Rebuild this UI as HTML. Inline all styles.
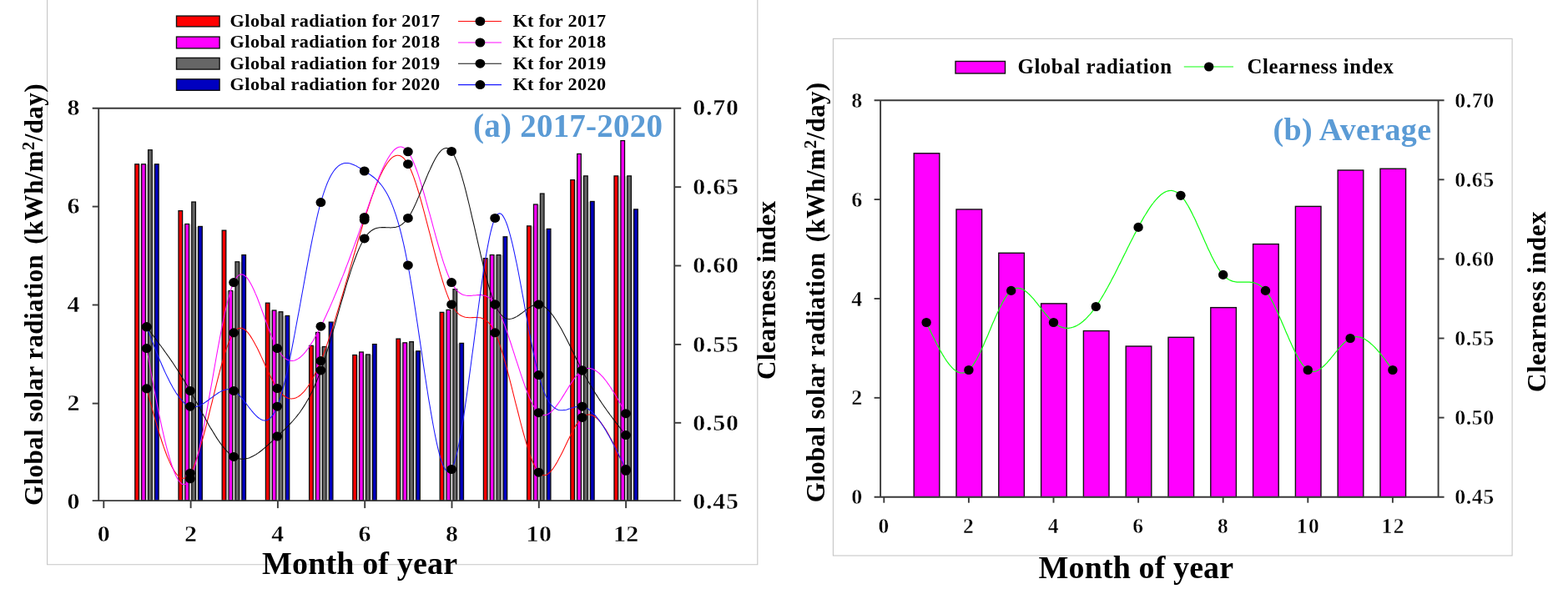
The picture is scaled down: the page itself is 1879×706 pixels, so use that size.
<!DOCTYPE html>
<html lang="en">
<head>
<meta charset="utf-8">
<title>Global solar radiation and clearness index</title>
<style>
html,body{margin:0;padding:0;background:#fff;}
body{width:1879px;height:706px;overflow:hidden;font-family:"Liberation Serif", "DejaVu Serif", serif;}
svg{display:block;}

</style>
</head>
<body>
<svg width="1879" height="706" viewBox="0 0 1879 706">
<rect x="0" y="0" width="1879" height="706" fill="#fff"/>
<g fill="none" stroke="#c6c6c6" stroke-width="1.1">
<path d="M56.6 -2 V676.8 H907.8 V-2"/>
<rect x="998.4" y="46.4" width="813.7" height="619.6"/>
</g>
<g fill="#d2d2d2">
<rect x="167.05" y="197.14" width="2.00" height="402.96"/>
<rect x="174.95" y="197.14" width="2.00" height="402.96"/>
<rect x="182.85" y="197.14" width="2.00" height="402.96"/>
<rect x="219.25" y="268.88" width="2.00" height="331.22"/>
<rect x="227.15" y="268.88" width="2.00" height="331.22"/>
<rect x="235.05" y="271.82" width="2.00" height="328.28"/>
<rect x="271.45" y="348.85" width="2.00" height="251.25"/>
<rect x="279.35" y="348.85" width="2.00" height="251.25"/>
<rect x="287.25" y="314.16" width="2.00" height="285.94"/>
<rect x="323.65" y="372.37" width="2.00" height="227.73"/>
<rect x="331.55" y="374.13" width="2.00" height="225.97"/>
<rect x="339.45" y="378.84" width="2.00" height="221.26"/>
<rect x="375.85" y="414.70" width="2.00" height="185.40"/>
<rect x="383.75" y="415.88" width="2.00" height="184.22"/>
<rect x="391.65" y="415.88" width="2.00" height="184.22"/>
<rect x="428.05" y="425.88" width="2.00" height="174.22"/>
<rect x="435.95" y="425.29" width="2.00" height="174.81"/>
<rect x="443.85" y="425.29" width="2.00" height="174.81"/>
<rect x="480.25" y="411.18" width="2.00" height="188.92"/>
<rect x="488.15" y="411.18" width="2.00" height="188.92"/>
<rect x="496.05" y="421.17" width="2.00" height="178.93"/>
<rect x="532.45" y="374.72" width="2.00" height="225.38"/>
<rect x="540.35" y="371.78" width="2.00" height="228.32"/>
<rect x="548.25" y="411.76" width="2.00" height="188.34"/>
<rect x="584.65" y="310.04" width="2.00" height="290.06"/>
<rect x="592.55" y="305.92" width="2.00" height="294.18"/>
<rect x="600.45" y="305.92" width="2.00" height="294.18"/>
<rect x="636.85" y="271.23" width="2.00" height="328.87"/>
<rect x="644.75" y="245.36" width="2.00" height="354.74"/>
<rect x="652.65" y="274.76" width="2.00" height="325.34"/>
<rect x="689.05" y="215.96" width="2.00" height="384.14"/>
<rect x="696.95" y="211.26" width="2.00" height="388.84"/>
<rect x="704.85" y="241.83" width="2.00" height="358.27"/>
<rect x="741.25" y="211.26" width="2.00" height="388.84"/>
<rect x="749.15" y="211.26" width="2.00" height="388.84"/>
<rect x="757.05" y="251.24" width="2.00" height="348.86"/>
</g>
<g stroke="#0c0c0c" stroke-width="1.3">
<rect x="161.80" y="196.79" width="4.6" height="403.31" fill="#ff0000"/>
<rect x="214.00" y="252.65" width="4.6" height="347.45" fill="#ff0000"/>
<rect x="266.20" y="276.17" width="4.6" height="323.93" fill="#ff0000"/>
<rect x="318.40" y="363.20" width="4.6" height="236.90" fill="#ff0000"/>
<rect x="370.60" y="414.35" width="4.6" height="185.75" fill="#ff0000"/>
<rect x="422.80" y="425.53" width="4.6" height="174.57" fill="#ff0000"/>
<rect x="475.00" y="406.12" width="4.6" height="193.98" fill="#ff0000"/>
<rect x="527.20" y="374.37" width="4.6" height="225.73" fill="#ff0000"/>
<rect x="579.40" y="309.69" width="4.6" height="290.41" fill="#ff0000"/>
<rect x="631.60" y="270.88" width="4.6" height="329.22" fill="#ff0000"/>
<rect x="683.80" y="215.61" width="4.6" height="384.49" fill="#ff0000"/>
<rect x="736.00" y="210.91" width="4.6" height="389.19" fill="#ff0000"/>
<rect x="169.70" y="196.79" width="4.6" height="403.31" fill="#ff00ff"/>
<rect x="221.90" y="268.53" width="4.6" height="331.57" fill="#ff00ff"/>
<rect x="274.10" y="348.50" width="4.6" height="251.60" fill="#ff00ff"/>
<rect x="326.30" y="372.02" width="4.6" height="228.08" fill="#ff00ff"/>
<rect x="378.50" y="398.48" width="4.6" height="201.62" fill="#ff00ff"/>
<rect x="430.70" y="422.00" width="4.6" height="178.10" fill="#ff00ff"/>
<rect x="482.90" y="410.83" width="4.6" height="189.27" fill="#ff00ff"/>
<rect x="535.10" y="371.43" width="4.6" height="228.67" fill="#ff00ff"/>
<rect x="587.30" y="305.57" width="4.6" height="294.53" fill="#ff00ff"/>
<rect x="639.50" y="245.01" width="4.6" height="355.09" fill="#ff00ff"/>
<rect x="691.70" y="184.45" width="4.6" height="415.65" fill="#ff00ff"/>
<rect x="743.90" y="168.57" width="4.6" height="431.53" fill="#ff00ff"/>
<rect x="177.60" y="179.74" width="4.6" height="420.36" fill="#666666"/>
<rect x="229.80" y="242.07" width="4.6" height="358.03" fill="#666666"/>
<rect x="282.00" y="313.81" width="4.6" height="286.29" fill="#666666"/>
<rect x="334.20" y="373.78" width="4.6" height="226.32" fill="#666666"/>
<rect x="386.40" y="415.53" width="4.6" height="184.57" fill="#666666"/>
<rect x="438.60" y="424.94" width="4.6" height="175.16" fill="#666666"/>
<rect x="490.80" y="409.65" width="4.6" height="190.45" fill="#666666"/>
<rect x="543.00" y="346.73" width="4.6" height="253.37" fill="#666666"/>
<rect x="595.20" y="305.57" width="4.6" height="294.53" fill="#666666"/>
<rect x="647.40" y="232.07" width="4.6" height="368.03" fill="#666666"/>
<rect x="699.60" y="210.91" width="4.6" height="389.19" fill="#666666"/>
<rect x="751.80" y="210.91" width="4.6" height="389.19" fill="#666666"/>
<rect x="185.50" y="196.79" width="4.6" height="403.31" fill="#0000c0"/>
<rect x="237.70" y="271.47" width="4.6" height="328.63" fill="#0000c0"/>
<rect x="289.90" y="305.57" width="4.6" height="294.53" fill="#0000c0"/>
<rect x="342.10" y="378.49" width="4.6" height="221.61" fill="#0000c0"/>
<rect x="394.30" y="386.13" width="4.6" height="213.97" fill="#0000c0"/>
<rect x="446.50" y="412.59" width="4.6" height="187.51" fill="#0000c0"/>
<rect x="498.70" y="420.82" width="4.6" height="179.28" fill="#0000c0"/>
<rect x="550.90" y="411.41" width="4.6" height="188.69" fill="#0000c0"/>
<rect x="603.10" y="283.82" width="4.6" height="316.28" fill="#0000c0"/>
<rect x="655.30" y="274.41" width="4.6" height="325.69" fill="#0000c0"/>
<rect x="707.50" y="241.48" width="4.6" height="358.62" fill="#0000c0"/>
<rect x="759.70" y="250.89" width="4.6" height="349.21" fill="#0000c0"/>
</g>
<g fill="none" stroke="#3a3a3a" stroke-width="1.9">
<path d="M118.2 129.7 V600.1"/>
<path d="M110.7 129.7 H816.2"/>
<path d="M110.7 600.1 H816.2"/>
<path d="M808.2 129.7 V600.1"/>
<path d="M110.7 483.60 H118.2"/>
<path d="M110.7 365.50 H118.2"/>
<path d="M110.7 247.60 H118.2"/>
<path d="M808.2 506.80 H816.2"/>
<path d="M808.2 412.90 H816.2"/>
<path d="M808.2 318.50 H816.2"/>
<path d="M808.2 224.20 H816.2"/>
<path d="M124.30 600.1 V609.1"/>
<path d="M228.60 600.1 V609.1"/>
<path d="M332.90 600.1 V609.1"/>
<path d="M437.20 600.1 V609.1"/>
<path d="M541.50 600.1 V609.1"/>
<path d="M645.80 600.1 V609.1"/>
<path d="M750.10 600.1 V609.1"/>
</g>
<path d="M175.7 465.8 L177.0 470.5 L178.3 475.3 L179.6 480.1 L180.9 484.8 L182.2 489.6 L183.5 494.2 L184.8 498.8 L186.1 503.4 L187.4 507.9 L188.7 512.3 L190.0 516.6 L191.3 520.8 L192.6 525.0 L193.9 529.0 L195.2 532.9 L196.5 536.7 L197.8 540.3 L199.1 543.8 L200.4 547.2 L201.8 550.4 L203.1 553.4 L204.4 556.2 L205.7 558.9 L207.0 561.3 L208.3 563.6 L209.6 565.6 L210.9 567.4 L212.2 569.0 L213.5 570.4 L214.8 571.5 L216.1 572.3 L217.4 572.9 L218.7 573.2 L220.0 573.3 L221.3 573.0 L222.6 572.5 L223.9 571.6 L225.2 570.5 L226.5 569.0 L227.9 567.2 L229.2 565.0 L230.5 562.6 L231.8 559.8 L233.1 556.7 L234.4 553.4 L235.7 549.8 L237.0 546.0 L238.3 541.9 L239.6 537.7 L240.9 533.2 L242.2 528.6 L243.5 523.9 L244.8 519.0 L246.1 514.0 L247.4 508.9 L248.7 503.7 L250.0 498.5 L251.3 493.2 L252.6 487.8 L254.0 482.5 L255.3 477.1 L256.6 471.8 L257.9 466.5 L259.2 461.3 L260.5 456.1 L261.8 451.1 L263.1 446.1 L264.4 441.2 L265.7 436.5 L267.0 432.0 L268.3 427.6 L269.6 423.4 L270.9 419.4 L272.2 415.7 L273.5 412.1 L274.8 408.9 L276.1 405.9 L277.4 403.2 L278.7 400.8 L280.1 398.8 L281.4 397.1 L282.7 395.7 L284.0 394.6 L285.3 393.8 L286.6 393.4 L287.9 393.2 L289.2 393.3 L290.5 393.6 L291.8 394.2 L293.1 395.0 L294.4 396.0 L295.7 397.3 L297.0 398.7 L298.3 400.3 L299.6 402.1 L300.9 404.1 L302.2 406.2 L303.5 408.4 L304.8 410.7 L306.1 413.2 L307.5 415.7 L308.8 418.3 L310.1 421.0 L311.4 423.8 L312.7 426.6 L314.0 429.4 L315.3 432.3 L316.6 435.1 L317.9 438.0 L319.2 440.8 L320.5 443.7 L321.8 446.4 L323.1 449.1 L324.4 451.8 L325.7 454.3 L327.0 456.8 L328.3 459.2 L329.6 461.5 L330.9 463.6 L332.2 465.6 L333.6 467.4 L334.9 469.1 L336.2 470.6 L337.5 472.0 L338.8 473.2 L340.1 474.3 L341.4 475.2 L342.7 476.0 L344.0 476.7 L345.3 477.2 L346.6 477.6 L347.9 477.8 L349.2 477.9 L350.5 477.8 L351.8 477.7 L353.1 477.3 L354.4 476.9 L355.7 476.3 L357.0 475.6 L358.4 474.7 L359.7 473.8 L361.0 472.7 L362.3 471.4 L363.6 470.1 L364.9 468.6 L366.2 467.0 L367.5 465.3 L368.8 463.5 L370.1 461.5 L371.4 459.5 L372.7 457.3 L374.0 455.0 L375.3 452.6 L376.6 450.0 L377.9 447.4 L379.2 444.7 L380.5 441.8 L381.8 438.9 L383.1 435.8 L384.4 432.6 L385.8 429.4 L387.1 426.0 L388.4 422.5 L389.7 419.0 L391.0 415.4 L392.3 411.6 L393.6 407.8 L394.9 404.0 L396.2 400.0 L397.5 396.0 L398.8 391.9 L400.1 387.8 L401.4 383.6 L402.7 379.3 L404.0 375.0 L405.3 370.7 L406.6 366.3 L407.9 361.9 L409.2 357.5 L410.6 353.0 L411.9 348.5 L413.2 344.0 L414.5 339.4 L415.8 334.9 L417.1 330.3 L418.4 325.7 L419.7 321.2 L421.0 316.6 L422.3 312.1 L423.6 307.5 L424.9 303.0 L426.2 298.5 L427.5 294.0 L428.8 289.5 L430.1 285.1 L431.4 280.7 L432.7 276.3 L434.0 272.0 L435.3 267.7 L436.7 263.5 L438.0 259.3 L439.3 255.2 L440.6 251.1 L441.9 247.2 L443.2 243.3 L444.5 239.4 L445.8 235.7 L447.1 232.1 L448.4 228.5 L449.7 225.1 L451.0 221.7 L452.3 218.5 L453.6 215.4 L454.9 212.4 L456.2 209.6 L457.5 206.9 L458.8 204.3 L460.1 201.9 L461.4 199.6 L462.8 197.5 L464.1 195.5 L465.4 193.7 L466.7 192.1 L468.0 190.7 L469.3 189.4 L470.6 188.4 L471.9 187.5 L473.2 186.9 L474.5 186.4 L475.8 186.2 L477.1 186.2 L478.4 186.4 L479.7 186.8 L481.0 187.5 L482.3 188.4 L483.6 189.5 L484.9 190.9 L486.2 192.6 L487.5 194.5 L488.9 196.7 L490.2 199.1 L491.5 201.9 L492.8 204.8 L494.1 208.0 L495.4 211.4 L496.7 215.0 L498.0 218.9 L499.3 222.9 L500.6 227.0 L501.9 231.3 L503.2 235.8 L504.5 240.3 L505.8 245.0 L507.1 249.8 L508.4 254.7 L509.7 259.6 L511.0 264.6 L512.3 269.7 L513.6 274.7 L515.0 279.8 L516.3 284.9 L517.6 290.0 L518.9 295.1 L520.2 300.1 L521.5 305.1 L522.8 310.0 L524.1 314.9 L525.4 319.6 L526.7 324.3 L528.0 328.8 L529.3 333.2 L530.6 337.5 L531.9 341.6 L533.2 345.6 L534.5 349.3 L535.8 352.9 L537.1 356.2 L538.4 359.4 L539.7 362.3 L541.1 364.9 L542.4 367.3 L543.7 369.4 L545.0 371.3 L546.3 373.0 L547.6 374.5 L548.9 375.7 L550.2 376.8 L551.5 377.8 L552.8 378.5 L554.1 379.1 L555.4 379.6 L556.7 380.0 L558.0 380.3 L559.3 380.5 L560.6 380.6 L561.9 380.7 L563.2 380.7 L564.5 380.7 L565.8 380.6 L567.2 380.6 L568.5 380.5 L569.8 380.5 L571.1 380.5 L572.4 380.5 L573.7 380.7 L575.0 380.8 L576.3 381.1 L577.6 381.5 L578.9 382.0 L580.2 382.6 L581.5 383.4 L582.8 384.3 L584.1 385.4 L585.4 386.6 L586.7 388.1 L588.0 389.7 L589.3 391.6 L590.6 393.8 L591.9 396.1 L593.2 398.8 L594.6 401.7 L595.9 404.8 L597.2 408.3 L598.5 411.9 L599.8 415.8 L601.1 419.8 L602.4 424.0 L603.7 428.4 L605.0 433.0 L606.3 437.7 L607.6 442.5 L608.9 447.5 L610.2 452.5 L611.5 457.6 L612.8 462.7 L614.1 467.9 L615.4 473.1 L616.7 478.4 L618.0 483.6 L619.4 488.8 L620.7 494.0 L622.0 499.2 L623.3 504.3 L624.6 509.3 L625.9 514.2 L627.2 519.0 L628.5 523.7 L629.8 528.2 L631.1 532.6 L632.4 536.8 L633.7 540.8 L635.0 544.7 L636.3 548.3 L637.6 551.7 L638.9 554.8 L640.2 557.7 L641.5 560.3 L642.8 562.6 L644.1 564.6 L645.5 566.2 L646.8 567.6 L648.1 568.6 L649.4 569.3 L650.7 569.7 L652.0 569.8 L653.3 569.6 L654.6 569.2 L655.9 568.5 L657.2 567.7 L658.5 566.5 L659.8 565.2 L661.1 563.7 L662.4 562.1 L663.7 560.2 L665.0 558.2 L666.3 556.1 L667.6 553.9 L668.9 551.5 L670.2 549.1 L671.6 546.6 L672.9 544.0 L674.2 541.4 L675.5 538.7 L676.8 536.0 L678.1 533.3 L679.4 530.5 L680.7 527.8 L682.0 525.2 L683.3 522.5 L684.6 520.0 L685.9 517.5 L687.2 515.1 L688.5 512.7 L689.8 510.5 L691.1 508.4 L692.4 506.5 L693.7 504.7 L695.0 503.1 L696.3 501.6 L697.7 500.4 L699.0 499.3 L700.3 498.4 L701.7 497.8 L703.0 497.3 L704.3 497.1 L705.7 497.0 L707.0 497.1 L708.4 497.4 L709.7 497.8 L711.0 498.5 L712.4 499.3 L713.7 500.2 L715.1 501.3 L716.4 502.5 L717.7 503.9 L719.1 505.4 L720.4 507.1 L721.7 508.8 L723.1 510.7 L724.4 512.7 L725.8 514.8 L727.1 517.0 L728.4 519.3 L729.8 521.7 L731.1 524.2 L732.5 526.7 L733.8 529.3 L735.1 532.0 L736.5 534.8 L737.8 537.6 L739.1 540.4 L740.5 543.3 L741.8 546.2 L743.2 549.2 L744.5 552.2 L745.8 555.2 L747.2 558.3 L748.5 561.3 L749.9 564.3" fill="none" stroke="#ff0808" stroke-width="1.05"/>
<path d="M175.7 417.6 L177.0 424.7 L178.3 431.8 L179.6 438.9 L180.9 446.0 L182.2 453.0 L183.5 459.9 L184.8 466.8 L186.1 473.6 L187.4 480.3 L188.7 486.9 L190.0 493.3 L191.3 499.6 L192.6 505.8 L193.9 511.8 L195.2 517.7 L196.5 523.4 L197.8 528.9 L199.1 534.1 L200.4 539.2 L201.8 544.0 L203.1 548.6 L204.4 552.9 L205.7 557.0 L207.0 560.8 L208.3 564.3 L209.6 567.5 L210.9 570.4 L212.2 572.9 L213.5 575.2 L214.8 577.0 L216.1 578.5 L217.4 579.7 L218.7 580.4 L220.0 580.7 L221.3 580.7 L222.6 580.2 L223.9 579.3 L225.2 577.9 L226.5 576.1 L227.9 573.8 L229.2 571.0 L230.5 567.7 L231.8 564.1 L233.1 560.0 L234.4 555.5 L235.7 550.6 L237.0 545.5 L238.3 540.0 L239.6 534.2 L240.9 528.1 L242.2 521.8 L243.5 515.3 L244.8 508.5 L246.1 501.6 L247.4 494.6 L248.7 487.4 L250.0 480.1 L251.3 472.7 L252.6 465.3 L254.0 457.9 L255.3 450.4 L256.6 442.9 L257.9 435.5 L259.2 428.2 L260.5 420.9 L261.8 413.8 L263.1 406.8 L264.4 399.9 L265.7 393.2 L267.0 386.8 L268.3 380.5 L269.6 374.5 L270.9 368.8 L272.2 363.4 L273.5 358.3 L274.8 353.6 L276.1 349.2 L277.4 345.2 L278.7 341.7 L280.1 338.6 L281.4 335.9 L282.7 333.7 L284.0 331.9 L285.3 330.6 L286.6 329.6 L287.9 329.1 L289.2 328.9 L290.5 329.0 L291.8 329.5 L293.1 330.3 L294.4 331.4 L295.7 332.7 L297.0 334.4 L298.3 336.3 L299.6 338.4 L300.9 340.7 L302.2 343.2 L303.5 346.0 L304.8 348.8 L306.1 351.9 L307.5 355.0 L308.8 358.3 L310.1 361.7 L311.4 365.1 L312.7 368.6 L314.0 372.2 L315.3 375.8 L316.6 379.4 L317.9 383.0 L319.2 386.6 L320.5 390.1 L321.8 393.6 L323.1 397.0 L324.4 400.3 L325.7 403.6 L327.0 406.7 L328.3 409.7 L329.6 412.5 L330.9 415.1 L332.2 417.6 L333.6 419.8 L334.9 421.9 L336.2 423.8 L337.5 425.4 L338.8 426.9 L340.1 428.2 L341.4 429.3 L342.7 430.3 L344.0 431.0 L345.3 431.6 L346.6 432.1 L347.9 432.3 L349.2 432.5 L350.5 432.4 L351.8 432.2 L353.1 431.9 L354.4 431.4 L355.7 430.8 L357.0 430.1 L358.4 429.2 L359.7 428.3 L361.0 427.2 L362.3 425.9 L363.6 424.6 L364.9 423.1 L366.2 421.6 L367.5 419.9 L368.8 418.2 L370.1 416.4 L371.4 414.4 L372.7 412.4 L374.0 410.3 L375.3 408.2 L376.6 405.9 L377.9 403.6 L379.2 401.3 L380.5 398.8 L381.8 396.4 L383.1 393.8 L384.4 391.2 L385.8 388.6 L387.1 385.9 L388.4 383.2 L389.7 380.5 L391.0 377.7 L392.3 374.8 L393.6 372.0 L394.9 369.1 L396.2 366.1 L397.5 363.1 L398.8 360.1 L400.1 357.0 L401.4 353.9 L402.7 350.8 L404.0 347.7 L405.3 344.5 L406.6 341.3 L407.9 338.0 L409.2 334.7 L410.6 331.4 L411.9 328.1 L413.2 324.7 L414.5 321.3 L415.8 317.9 L417.1 314.5 L418.4 311.0 L419.7 307.5 L421.0 304.0 L422.3 300.5 L423.6 296.9 L424.9 293.4 L426.2 289.8 L427.5 286.2 L428.8 282.5 L430.1 278.9 L431.4 275.2 L432.7 271.6 L434.0 267.9 L435.3 264.2 L436.7 260.5 L438.0 256.7 L439.3 253.0 L440.6 249.3 L441.9 245.6 L443.2 241.9 L444.5 238.2 L445.8 234.6 L447.1 231.0 L448.4 227.4 L449.7 223.9 L451.0 220.5 L452.3 217.2 L453.6 213.9 L454.9 210.7 L456.2 207.6 L457.5 204.6 L458.8 201.7 L460.1 198.9 L461.4 196.2 L462.8 193.7 L464.1 191.3 L465.4 189.1 L466.7 187.0 L468.0 185.0 L469.3 183.3 L470.6 181.7 L471.9 180.2 L473.2 179.0 L474.5 178.0 L475.8 177.2 L477.1 176.6 L478.4 176.2 L479.7 176.0 L481.0 176.1 L482.3 176.4 L483.6 176.9 L484.9 177.8 L486.2 178.8 L487.5 180.2 L488.9 181.8 L490.2 183.7 L491.5 185.9 L492.8 188.4 L494.1 191.1 L495.4 194.0 L496.7 197.1 L498.0 200.5 L499.3 204.0 L500.6 207.7 L501.9 211.6 L503.2 215.6 L504.5 219.8 L505.8 224.1 L507.1 228.5 L508.4 233.0 L509.7 237.6 L511.0 242.3 L512.3 247.0 L513.6 251.8 L515.0 256.6 L516.3 261.4 L517.6 266.2 L518.9 271.1 L520.2 275.9 L521.5 280.6 L522.8 285.3 L524.1 290.0 L525.4 294.5 L526.7 299.0 L528.0 303.4 L529.3 307.7 L530.6 311.8 L531.9 315.8 L533.2 319.6 L534.5 323.3 L535.8 326.7 L537.1 330.0 L538.4 333.1 L539.7 335.9 L541.1 338.6 L542.4 340.9 L543.7 343.0 L545.0 344.9 L546.3 346.6 L547.6 348.1 L548.9 349.4 L550.2 350.5 L551.5 351.5 L552.8 352.3 L554.1 352.9 L555.4 353.4 L556.7 353.8 L558.0 354.1 L559.3 354.3 L560.6 354.4 L561.9 354.5 L563.2 354.4 L564.5 354.4 L565.8 354.3 L567.2 354.1 L568.5 354.0 L569.8 353.9 L571.1 353.7 L572.4 353.6 L573.7 353.6 L575.0 353.5 L576.3 353.6 L577.6 353.7 L578.9 353.9 L580.2 354.2 L581.5 354.6 L582.8 355.1 L584.1 355.7 L585.4 356.5 L586.7 357.4 L588.0 358.6 L589.3 359.8 L590.6 361.3 L591.9 363.0 L593.2 364.9 L594.6 367.0 L595.9 369.3 L597.2 371.9 L598.5 374.6 L599.8 377.5 L601.1 380.6 L602.4 383.8 L603.7 387.1 L605.0 390.6 L606.3 394.2 L607.6 397.9 L608.9 401.7 L610.2 405.6 L611.5 409.5 L612.8 413.5 L614.1 417.6 L615.4 421.6 L616.7 425.7 L618.0 429.8 L619.4 433.8 L620.7 437.9 L622.0 441.9 L623.3 445.9 L624.6 449.8 L625.9 453.7 L627.2 457.4 L628.5 461.1 L629.8 464.7 L631.1 468.1 L632.4 471.5 L633.7 474.6 L635.0 477.7 L636.3 480.5 L637.6 483.2 L638.9 485.7 L640.2 487.9 L641.5 490.0 L642.8 491.8 L644.1 493.4 L645.5 494.7 L646.8 495.8 L648.1 496.6 L649.4 497.2 L650.7 497.5 L652.0 497.6 L653.3 497.5 L654.6 497.2 L655.9 496.7 L657.2 496.0 L658.5 495.2 L659.8 494.2 L661.1 493.0 L662.4 491.7 L663.7 490.3 L665.0 488.8 L666.3 487.1 L667.6 485.4 L668.9 483.6 L670.2 481.7 L671.6 479.7 L672.9 477.7 L674.2 475.6 L675.5 473.6 L676.8 471.5 L678.1 469.4 L679.4 467.2 L680.7 465.2 L682.0 463.1 L683.3 461.0 L684.6 459.0 L685.9 457.1 L687.2 455.2 L688.5 453.4 L689.8 451.7 L691.1 450.1 L692.4 448.6 L693.7 447.2 L695.0 446.0 L696.3 444.9 L697.7 443.9 L699.0 443.1 L700.3 442.5 L701.7 442.0 L703.0 441.7 L704.3 441.5 L705.7 441.5 L707.0 441.6 L708.4 441.8 L709.7 442.2 L711.0 442.8 L712.4 443.4 L713.7 444.2 L715.1 445.1 L716.4 446.1 L717.7 447.2 L719.1 448.5 L720.4 449.8 L721.7 451.2 L723.1 452.7 L724.4 454.3 L725.8 456.0 L727.1 457.8 L728.4 459.6 L729.8 461.5 L731.1 463.5 L732.5 465.6 L733.8 467.7 L735.1 469.8 L736.5 472.0 L737.8 474.2 L739.1 476.5 L740.5 478.8 L741.8 481.2 L743.2 483.6 L744.5 486.0 L745.8 488.4 L747.2 490.8 L748.5 493.2 L749.9 495.7" fill="none" stroke="#ff08ff" stroke-width="1.05"/>
<path d="M175.7 391.8 L177.0 393.5 L178.3 395.3 L179.6 397.0 L180.9 398.7 L182.2 400.4 L183.5 402.2 L184.8 403.9 L186.1 405.6 L187.4 407.4 L188.7 409.2 L190.0 410.9 L191.3 412.7 L192.6 414.5 L193.9 416.3 L195.2 418.0 L196.5 419.9 L197.8 421.7 L199.1 423.5 L200.4 425.4 L201.8 427.2 L203.1 429.1 L204.4 431.0 L205.7 432.9 L207.0 434.8 L208.3 436.7 L209.6 438.7 L210.9 440.7 L212.2 442.7 L213.5 444.7 L214.8 446.7 L216.1 448.8 L217.4 450.9 L218.7 453.0 L220.0 455.1 L221.3 457.2 L222.6 459.4 L223.9 461.6 L225.2 463.8 L226.5 466.1 L227.9 468.4 L229.2 470.7 L230.5 473.0 L231.8 475.4 L233.1 477.8 L234.4 480.2 L235.7 482.6 L237.0 485.0 L238.3 487.4 L239.6 489.8 L240.9 492.3 L242.2 494.7 L243.5 497.1 L244.8 499.5 L246.1 501.8 L247.4 504.2 L248.7 506.5 L250.0 508.9 L251.3 511.2 L252.6 513.4 L254.0 515.6 L255.3 517.8 L256.6 519.9 L257.9 522.0 L259.2 524.1 L260.5 526.1 L261.8 528.0 L263.1 529.9 L264.4 531.7 L265.7 533.5 L267.0 535.1 L268.3 536.7 L269.6 538.3 L270.9 539.7 L272.2 541.1 L273.5 542.4 L274.8 543.6 L276.1 544.7 L277.4 545.7 L278.7 546.6 L280.1 547.4 L281.4 548.1 L282.7 548.7 L284.0 549.2 L285.3 549.6 L286.6 549.9 L287.9 550.1 L289.2 550.3 L290.5 550.3 L291.8 550.3 L293.1 550.1 L294.4 549.9 L295.7 549.6 L297.0 549.3 L298.3 548.9 L299.6 548.4 L300.9 547.8 L302.2 547.2 L303.5 546.6 L304.8 545.8 L306.1 545.1 L307.5 544.2 L308.8 543.4 L310.1 542.5 L311.4 541.5 L312.7 540.5 L314.0 539.5 L315.3 538.4 L316.6 537.3 L317.9 536.2 L319.2 535.1 L320.5 533.9 L321.8 532.7 L323.1 531.5 L324.4 530.3 L325.7 529.1 L327.0 527.9 L328.3 526.6 L329.6 525.4 L330.9 524.2 L332.2 523.0 L333.6 521.7 L334.9 520.5 L336.2 519.3 L337.5 518.1 L338.8 516.9 L340.1 515.6 L341.4 514.4 L342.7 513.1 L344.0 511.8 L345.3 510.5 L346.6 509.2 L347.9 507.8 L349.2 506.4 L350.5 505.0 L351.8 503.5 L353.1 502.0 L354.4 500.5 L355.7 498.9 L357.0 497.2 L358.4 495.5 L359.7 493.7 L361.0 491.8 L362.3 489.9 L363.6 487.9 L364.9 485.9 L366.2 483.8 L367.5 481.5 L368.8 479.2 L370.1 476.9 L371.4 474.4 L372.7 471.8 L374.0 469.2 L375.3 466.4 L376.6 463.5 L377.9 460.5 L379.2 457.5 L380.5 454.3 L381.8 450.9 L383.1 447.5 L384.4 443.9 L385.8 440.2 L387.1 436.4 L388.4 432.5 L389.7 428.5 L391.0 424.4 L392.3 420.2 L393.6 415.9 L394.9 411.5 L396.2 407.1 L397.5 402.7 L398.8 398.2 L400.1 393.6 L401.4 389.1 L402.7 384.5 L404.0 379.9 L405.3 375.3 L406.6 370.7 L407.9 366.1 L409.2 361.5 L410.6 357.0 L411.9 352.5 L413.2 348.1 L414.5 343.7 L415.8 339.4 L417.1 335.1 L418.4 331.0 L419.7 326.9 L421.0 322.9 L422.3 319.1 L423.6 315.3 L424.9 311.7 L426.2 308.2 L427.5 304.8 L428.8 301.6 L430.1 298.5 L431.4 295.6 L432.7 292.9 L434.0 290.4 L435.3 288.0 L436.7 285.9 L438.0 283.9 L439.3 282.2 L440.6 280.6 L441.9 279.2 L443.2 278.0 L444.5 276.9 L445.8 276.0 L447.1 275.2 L448.4 274.5 L449.7 274.0 L451.0 273.6 L452.3 273.2 L453.6 273.0 L454.9 272.8 L456.2 272.7 L457.5 272.6 L458.8 272.6 L460.1 272.6 L461.4 272.6 L462.8 272.7 L464.1 272.7 L465.4 272.8 L466.7 272.8 L468.0 272.9 L469.3 272.8 L470.6 272.8 L471.9 272.6 L473.2 272.5 L474.5 272.2 L475.8 271.8 L477.1 271.4 L478.4 270.9 L479.7 270.2 L481.0 269.4 L482.3 268.5 L483.6 267.4 L484.9 266.1 L486.2 264.8 L487.5 263.2 L488.9 261.4 L490.2 259.5 L491.5 257.3 L492.8 255.0 L494.1 252.6 L495.4 250.0 L496.7 247.2 L498.0 244.4 L499.3 241.5 L500.6 238.4 L501.9 235.4 L503.2 232.2 L504.5 229.0 L505.8 225.8 L507.1 222.6 L508.4 219.4 L509.7 216.2 L511.0 213.0 L512.3 209.9 L513.6 206.8 L515.0 203.9 L516.3 201.0 L517.6 198.2 L518.9 195.5 L520.2 192.9 L521.5 190.5 L522.8 188.3 L524.1 186.2 L525.4 184.3 L526.7 182.6 L528.0 181.1 L529.3 179.9 L530.6 178.9 L531.9 178.2 L533.2 177.7 L534.5 177.5 L535.8 177.6 L537.1 178.1 L538.4 178.9 L539.7 180.0 L541.1 181.4 L542.4 183.3 L543.7 185.5 L545.0 188.0 L546.3 190.9 L547.6 194.0 L548.9 197.5 L550.2 201.2 L551.5 205.2 L552.8 209.4 L554.1 213.8 L555.4 218.4 L556.7 223.2 L558.0 228.2 L559.3 233.4 L560.6 238.6 L561.9 244.0 L563.2 249.5 L564.5 255.1 L565.8 260.8 L567.2 266.5 L568.5 272.2 L569.8 277.9 L571.1 283.7 L572.4 289.4 L573.7 295.1 L575.0 300.7 L576.3 306.3 L577.6 311.8 L578.9 317.2 L580.2 322.5 L581.5 327.6 L582.8 332.6 L584.1 337.4 L585.4 342.0 L586.7 346.4 L588.0 350.6 L589.3 354.6 L590.6 358.3 L591.9 361.8 L593.2 364.9 L594.6 367.7 L595.9 370.3 L597.2 372.6 L598.5 374.6 L599.8 376.3 L601.1 377.8 L602.4 379.1 L603.7 380.1 L605.0 380.9 L606.3 381.6 L607.6 382.0 L608.9 382.3 L610.2 382.4 L611.5 382.3 L612.8 382.1 L614.1 381.8 L615.4 381.3 L616.7 380.7 L618.0 380.1 L619.4 379.4 L620.7 378.5 L622.0 377.7 L623.3 376.7 L624.6 375.8 L625.9 374.8 L627.2 373.8 L628.5 372.8 L629.8 371.8 L631.1 370.9 L632.4 369.9 L633.7 369.0 L635.0 368.2 L636.3 367.4 L637.6 366.7 L638.9 366.1 L640.2 365.6 L641.5 365.2 L642.8 365.0 L644.1 364.9 L645.5 364.9 L646.8 365.1 L648.1 365.4 L649.4 365.9 L650.7 366.6 L652.0 367.3 L653.3 368.3 L654.6 369.3 L655.9 370.5 L657.2 371.8 L658.5 373.2 L659.8 374.7 L661.1 376.3 L662.4 378.0 L663.7 379.9 L665.0 381.8 L666.3 383.8 L667.6 385.8 L668.9 388.0 L670.2 390.2 L671.6 392.5 L672.9 394.8 L674.2 397.2 L675.5 399.7 L676.8 402.2 L678.1 404.7 L679.4 407.2 L680.7 409.8 L682.0 412.5 L683.3 415.1 L684.6 417.7 L685.9 420.4 L687.2 423.1 L688.5 425.7 L689.8 428.4 L691.1 431.0 L692.4 433.7 L693.7 436.3 L695.0 438.9 L696.3 441.4 L697.7 443.9 L699.0 446.5 L700.3 449.0 L701.7 451.4 L703.0 453.8 L704.3 456.2 L705.7 458.5 L707.0 460.8 L708.4 463.1 L709.7 465.3 L711.0 467.5 L712.4 469.7 L713.7 471.8 L715.1 473.9 L716.4 476.0 L717.7 478.0 L719.1 480.1 L720.4 482.0 L721.7 484.0 L723.1 486.0 L724.4 487.9 L725.8 489.8 L727.1 491.7 L728.4 493.5 L729.8 495.4 L731.1 497.2 L732.5 499.0 L733.8 500.8 L735.1 502.6 L736.5 504.4 L737.8 506.1 L739.1 507.9 L740.5 509.6 L741.8 511.3 L743.2 513.1 L744.5 514.8 L745.8 516.5 L747.2 518.2 L748.5 519.9 L749.9 521.6" fill="none" stroke="#101010" stroke-width="1.05"/>
<path d="M175.7 391.8 L177.0 395.2 L178.3 398.5 L179.6 401.9 L180.9 405.2 L182.2 408.6 L183.5 411.9 L184.8 415.2 L186.1 418.4 L187.4 421.7 L188.7 424.9 L190.0 428.0 L191.3 431.2 L192.6 434.2 L193.9 437.3 L195.2 440.3 L196.5 443.2 L197.8 446.1 L199.1 448.9 L200.4 451.6 L201.8 454.3 L203.1 456.9 L204.4 459.4 L205.7 461.8 L207.0 464.2 L208.3 466.4 L209.6 468.6 L210.9 470.7 L212.2 472.6 L213.5 474.5 L214.8 476.3 L216.1 477.9 L217.4 479.5 L218.7 480.9 L220.0 482.2 L221.3 483.3 L222.6 484.4 L223.9 485.3 L225.2 486.1 L226.5 486.7 L227.9 487.2 L229.2 487.5 L230.5 487.8 L231.8 487.8 L233.1 487.8 L234.4 487.6 L235.7 487.3 L237.0 487.0 L238.3 486.5 L239.6 485.9 L240.9 485.3 L242.2 484.6 L243.5 483.8 L244.8 483.0 L246.1 482.1 L247.4 481.2 L248.7 480.3 L250.0 479.3 L251.3 478.3 L252.6 477.3 L254.0 476.4 L255.3 475.4 L256.6 474.4 L257.9 473.5 L259.2 472.6 L260.5 471.7 L261.8 470.8 L263.1 470.1 L264.4 469.4 L265.7 468.7 L267.0 468.1 L268.3 467.7 L269.6 467.3 L270.9 467.0 L272.2 466.8 L273.5 466.7 L274.8 466.8 L276.1 467.0 L277.4 467.3 L278.7 467.8 L280.1 468.4 L281.4 469.2 L282.7 470.1 L284.0 471.2 L285.3 472.4 L286.6 473.7 L287.9 475.1 L289.2 476.5 L290.5 478.1 L291.8 479.7 L293.1 481.4 L294.4 483.1 L295.7 484.8 L297.0 486.5 L298.3 488.2 L299.6 489.9 L300.9 491.5 L302.2 493.1 L303.5 494.7 L304.8 496.1 L306.1 497.5 L307.5 498.8 L308.8 500.0 L310.1 501.0 L311.4 501.9 L312.7 502.7 L314.0 503.3 L315.3 503.7 L316.6 504.0 L317.9 504.0 L319.2 503.8 L320.5 503.4 L321.8 502.7 L323.1 501.8 L324.4 500.6 L325.7 499.2 L327.0 497.4 L328.3 495.4 L329.6 493.0 L330.9 490.3 L332.2 487.2 L333.6 483.8 L334.9 480.0 L336.2 475.9 L337.5 471.6 L338.8 466.9 L340.1 461.9 L341.4 456.7 L342.7 451.2 L344.0 445.5 L345.3 439.6 L346.6 433.4 L347.9 427.1 L349.2 420.7 L350.5 414.1 L351.8 407.3 L353.1 400.5 L354.4 393.5 L355.7 386.4 L357.0 379.3 L358.4 372.2 L359.7 365.0 L361.0 357.7 L362.3 350.5 L363.6 343.3 L364.9 336.1 L366.2 328.9 L367.5 321.9 L368.8 314.8 L370.1 307.9 L371.4 301.1 L372.7 294.4 L374.0 287.9 L375.3 281.5 L376.6 275.3 L377.9 269.3 L379.2 263.5 L380.5 257.9 L381.8 252.5 L383.1 247.4 L384.4 242.6 L385.8 238.0 L387.1 233.8 L388.4 229.8 L389.7 226.1 L391.0 222.6 L392.3 219.3 L393.6 216.4 L394.9 213.6 L396.2 211.1 L397.5 208.8 L398.8 206.7 L400.1 204.8 L401.4 203.1 L402.7 201.6 L404.0 200.3 L405.3 199.2 L406.6 198.2 L407.9 197.4 L409.2 196.7 L410.6 196.2 L411.9 195.8 L413.2 195.6 L414.5 195.4 L415.8 195.4 L417.1 195.5 L418.4 195.7 L419.7 196.0 L421.0 196.4 L422.3 196.9 L423.6 197.4 L424.9 198.0 L426.2 198.6 L427.5 199.3 L428.8 200.1 L430.1 200.8 L431.4 201.6 L432.7 202.5 L434.0 203.3 L435.3 204.1 L436.7 205.0 L438.0 205.8 L439.3 206.6 L440.6 207.4 L441.9 208.3 L443.2 209.1 L444.5 210.0 L445.8 211.0 L447.1 212.0 L448.4 213.0 L449.7 214.1 L451.0 215.3 L452.3 216.5 L453.6 217.9 L454.9 219.3 L456.2 220.8 L457.5 222.5 L458.8 224.3 L460.1 226.2 L461.4 228.2 L462.8 230.4 L464.1 232.8 L465.4 235.3 L466.7 238.0 L468.0 240.8 L469.3 243.9 L470.6 247.1 L471.9 250.6 L473.2 254.3 L474.5 258.1 L475.8 262.3 L477.1 266.6 L478.4 271.2 L479.7 276.1 L481.0 281.2 L482.3 286.6 L483.6 292.2 L484.9 298.2 L486.2 304.4 L487.5 311.0 L488.9 317.9 L490.2 325.0 L491.5 332.5 L492.8 340.3 L494.1 348.2 L495.4 356.4 L496.7 364.8 L498.0 373.3 L499.3 382.0 L500.6 390.7 L501.9 399.6 L503.2 408.4 L504.5 417.3 L505.8 426.2 L507.1 435.1 L508.4 443.8 L509.7 452.5 L511.0 461.1 L512.3 469.5 L513.6 477.8 L515.0 485.8 L516.3 493.7 L517.6 501.2 L518.9 508.5 L520.2 515.5 L521.5 522.1 L522.8 528.4 L524.1 534.3 L525.4 539.8 L526.7 544.8 L528.0 549.3 L529.3 553.3 L530.6 556.8 L531.9 559.8 L533.2 562.1 L534.5 563.9 L535.8 565.0 L537.1 565.4 L538.4 565.2 L539.7 564.2 L541.1 562.5 L542.4 560.0 L543.7 556.7 L545.0 552.8 L546.3 548.2 L547.6 543.0 L548.9 537.2 L550.2 530.8 L551.5 523.9 L552.8 516.6 L554.1 508.8 L555.4 500.6 L556.7 492.1 L558.0 483.2 L559.3 474.1 L560.6 464.7 L561.9 455.1 L563.2 445.4 L564.5 435.5 L565.8 425.5 L567.2 415.4 L568.5 405.4 L569.8 395.3 L571.1 385.3 L572.4 375.5 L573.7 365.7 L575.0 356.1 L576.3 346.8 L577.6 337.6 L578.9 328.8 L580.2 320.3 L581.5 312.1 L582.8 304.4 L584.1 297.1 L585.4 290.3 L586.7 283.9 L588.0 278.2 L589.3 273.0 L590.6 268.5 L591.9 264.6 L593.2 261.4 L594.6 259.0 L595.9 257.2 L597.2 256.2 L598.5 255.8 L599.8 256.1 L601.1 256.9 L602.4 258.4 L603.7 260.4 L605.0 262.9 L606.3 265.9 L607.6 269.3 L608.9 273.2 L610.2 277.6 L611.5 282.3 L612.8 287.3 L614.1 292.7 L615.4 298.4 L616.7 304.4 L618.0 310.6 L619.4 317.0 L620.7 323.7 L622.0 330.5 L623.3 337.4 L624.6 344.4 L625.9 351.6 L627.2 358.7 L628.5 365.9 L629.8 373.1 L631.1 380.3 L632.4 387.4 L633.7 394.5 L635.0 401.4 L636.3 408.2 L637.6 414.8 L638.9 421.3 L640.2 427.5 L641.5 433.4 L642.8 439.1 L644.1 444.5 L645.5 449.6 L646.8 454.3 L648.1 458.6 L649.4 462.7 L650.7 466.4 L652.0 469.8 L653.3 472.9 L654.6 475.7 L655.9 478.2 L657.2 480.5 L658.5 482.5 L659.8 484.3 L661.1 485.9 L662.4 487.2 L663.7 488.4 L665.0 489.3 L666.3 490.1 L667.6 490.7 L668.9 491.2 L670.2 491.5 L671.6 491.7 L672.9 491.8 L674.2 491.8 L675.5 491.6 L676.8 491.4 L678.1 491.2 L679.4 490.9 L680.7 490.5 L682.0 490.1 L683.3 489.7 L684.6 489.2 L685.9 488.8 L687.2 488.4 L688.5 488.0 L689.8 487.7 L691.1 487.4 L692.4 487.2 L693.7 487.1 L695.0 487.0 L696.3 487.0 L697.7 487.2 L699.0 487.5 L700.3 487.9 L701.7 488.5 L703.0 489.1 L704.3 489.9 L705.7 490.8 L707.0 491.8 L708.4 492.9 L709.7 494.1 L711.0 495.4 L712.4 496.9 L713.7 498.4 L715.1 500.0 L716.4 501.7 L717.7 503.4 L719.1 505.3 L720.4 507.2 L721.7 509.2 L723.1 511.3 L724.4 513.4 L725.8 515.6 L727.1 517.9 L728.4 520.2 L729.8 522.6 L731.1 525.0 L732.5 527.5 L733.8 530.0 L735.1 532.6 L736.5 535.2 L737.8 537.8 L739.1 540.5 L740.5 543.2 L741.8 545.9 L743.2 548.6 L744.5 551.4 L745.8 554.1 L747.2 556.9 L748.5 559.7 L749.9 562.5" fill="none" stroke="#1818ff" stroke-width="1.05"/>
<g fill="#000">
<ellipse cx="175.7" cy="465.8" rx="5.9" ry="5.5"/>
<ellipse cx="227.9" cy="567.2" rx="5.9" ry="5.5"/>
<ellipse cx="280.1" cy="398.8" rx="5.9" ry="5.5"/>
<ellipse cx="332.2" cy="465.6" rx="5.9" ry="5.5"/>
<ellipse cx="384.4" cy="432.6" rx="5.9" ry="5.5"/>
<ellipse cx="436.7" cy="263.5" rx="5.9" ry="5.5"/>
<ellipse cx="488.9" cy="196.7" rx="5.9" ry="5.5"/>
<ellipse cx="541.1" cy="364.9" rx="5.9" ry="5.5"/>
<ellipse cx="593.2" cy="398.8" rx="5.9" ry="5.5"/>
<ellipse cx="645.5" cy="566.2" rx="5.9" ry="5.5"/>
<ellipse cx="697.7" cy="500.4" rx="5.9" ry="5.5"/>
<ellipse cx="749.9" cy="564.3" rx="5.9" ry="5.5"/>
<ellipse cx="175.7" cy="417.6" rx="5.9" ry="5.5"/>
<ellipse cx="227.9" cy="573.8" rx="5.9" ry="5.5"/>
<ellipse cx="280.1" cy="338.6" rx="5.9" ry="5.5"/>
<ellipse cx="332.2" cy="417.6" rx="5.9" ry="5.5"/>
<ellipse cx="384.4" cy="391.2" rx="5.9" ry="5.5"/>
<ellipse cx="436.7" cy="260.5" rx="5.9" ry="5.5"/>
<ellipse cx="488.9" cy="181.8" rx="5.9" ry="5.5"/>
<ellipse cx="541.1" cy="338.6" rx="5.9" ry="5.5"/>
<ellipse cx="593.2" cy="364.9" rx="5.9" ry="5.5"/>
<ellipse cx="645.5" cy="494.7" rx="5.9" ry="5.5"/>
<ellipse cx="697.7" cy="443.9" rx="5.9" ry="5.5"/>
<ellipse cx="749.9" cy="495.7" rx="5.9" ry="5.5"/>
<ellipse cx="175.7" cy="391.8" rx="5.9" ry="5.5"/>
<ellipse cx="227.9" cy="468.4" rx="5.9" ry="5.5"/>
<ellipse cx="280.1" cy="547.4" rx="5.9" ry="5.5"/>
<ellipse cx="332.2" cy="523.0" rx="5.9" ry="5.5"/>
<ellipse cx="384.4" cy="443.9" rx="5.9" ry="5.5"/>
<ellipse cx="436.7" cy="285.9" rx="5.9" ry="5.5"/>
<ellipse cx="488.9" cy="261.4" rx="5.9" ry="5.5"/>
<ellipse cx="541.1" cy="181.4" rx="5.9" ry="5.5"/>
<ellipse cx="593.2" cy="364.9" rx="5.9" ry="5.5"/>
<ellipse cx="645.5" cy="364.9" rx="5.9" ry="5.5"/>
<ellipse cx="697.7" cy="443.9" rx="5.9" ry="5.5"/>
<ellipse cx="749.9" cy="521.6" rx="5.9" ry="5.5"/>
<ellipse cx="175.7" cy="391.8" rx="5.9" ry="5.5"/>
<ellipse cx="227.9" cy="487.2" rx="5.9" ry="5.5"/>
<ellipse cx="280.1" cy="468.4" rx="5.9" ry="5.5"/>
<ellipse cx="332.2" cy="487.2" rx="5.9" ry="5.5"/>
<ellipse cx="384.4" cy="242.6" rx="5.9" ry="5.5"/>
<ellipse cx="436.7" cy="205.0" rx="5.9" ry="5.5"/>
<ellipse cx="488.9" cy="317.9" rx="5.9" ry="5.5"/>
<ellipse cx="541.1" cy="562.5" rx="5.9" ry="5.5"/>
<ellipse cx="593.2" cy="261.4" rx="5.9" ry="5.5"/>
<ellipse cx="645.5" cy="449.6" rx="5.9" ry="5.5"/>
<ellipse cx="697.7" cy="487.2" rx="5.9" ry="5.5"/>
<ellipse cx="749.9" cy="562.5" rx="5.9" ry="5.5"/>
</g>
<g font-family='"Liberation Serif", "DejaVu Serif", serif' font-weight="bold">
<rect x="211.5" y="19.1" width="51.6" height="12.8" fill="#ff0000" stroke="#111" stroke-width="1.4"/>
<text x="0" y="0" font-size="21" text-anchor="start" fill="#000" textLength="237.2" lengthAdjust="spacing" transform="translate(275.6 32.0) scale(1.06 1)">Global radiation for 2017</text>
<path d="M549 25.5 H601" stroke="#ff0808" stroke-width="1.05" fill="none"/>
<ellipse cx="575.4" cy="25.5" rx="5.9" ry="5.5" fill="#000"/>
<text x="0" y="0" font-size="21" text-anchor="start" fill="#000" textLength="105.3" lengthAdjust="spacing" transform="translate(614.4 32.0) scale(1.06 1)">Kt for 2017</text>
<rect x="211.5" y="44.1" width="51.6" height="13.8" fill="#ff00ff" stroke="#111" stroke-width="1.4"/>
<text x="0" y="0" font-size="21" text-anchor="start" fill="#000" textLength="237.2" lengthAdjust="spacing" transform="translate(275.6 57.2) scale(1.06 1)">Global radiation for 2018</text>
<path d="M549 51.0 H601" stroke="#ff08ff" stroke-width="1.05" fill="none"/>
<ellipse cx="575.4" cy="51.0" rx="5.9" ry="5.5" fill="#000"/>
<text x="0" y="0" font-size="21" text-anchor="start" fill="#000" textLength="105.3" lengthAdjust="spacing" transform="translate(614.4 57.2) scale(1.06 1)">Kt for 2018</text>
<rect x="211.5" y="69.4" width="51.6" height="13.7" fill="#666666" stroke="#111" stroke-width="1.4"/>
<text x="0" y="0" font-size="21" text-anchor="start" fill="#000" textLength="237.2" lengthAdjust="spacing" transform="translate(275.6 82.5) scale(1.06 1)">Global radiation for 2019</text>
<path d="M549 76.2 H601" stroke="#101010" stroke-width="1.05" fill="none"/>
<ellipse cx="575.4" cy="76.2" rx="5.9" ry="5.5" fill="#000"/>
<text x="0" y="0" font-size="21" text-anchor="start" fill="#000" textLength="105.3" lengthAdjust="spacing" transform="translate(614.4 82.5) scale(1.06 1)">Kt for 2019</text>
<rect x="211.5" y="94.9" width="51.6" height="13.4" fill="#0000c0" stroke="#111" stroke-width="1.4"/>
<text x="0" y="0" font-size="21" text-anchor="start" fill="#000" textLength="237.2" lengthAdjust="spacing" transform="translate(275.6 108.0) scale(1.06 1)">Global radiation for 2020</text>
<path d="M549 101.6 H601" stroke="#1818ff" stroke-width="1.05" fill="none"/>
<ellipse cx="575.4" cy="101.6" rx="5.9" ry="5.5" fill="#000"/>
<text x="0" y="0" font-size="21" text-anchor="start" fill="#000" textLength="105.3" lengthAdjust="spacing" transform="translate(614.4 108.0) scale(1.06 1)">Kt for 2020</text>
<text x="567.0" y="164.2" font-size="39" text-anchor="start" fill="#5b9bd5" textLength="227.0" lengthAdjust="spacing">(a) 2017-2020</text>
<text x="0" y="0" font-size="28" text-anchor="start" fill="#000" textLength="14.0" lengthAdjust="spacing" transform="translate(80.6 610.3) scale(1.07 1)" stroke="#fff" stroke-width="0.4">0</text>
<text x="0" y="0" font-size="28" text-anchor="start" fill="#000" textLength="14.0" lengthAdjust="spacing" transform="translate(80.6 492.0) scale(1.07 1)" stroke="#fff" stroke-width="0.4">2</text>
<text x="0" y="0" font-size="28" text-anchor="start" fill="#000" textLength="14.0" lengthAdjust="spacing" transform="translate(80.6 373.9) scale(1.07 1)" stroke="#fff" stroke-width="0.4">4</text>
<text x="0" y="0" font-size="28" text-anchor="start" fill="#000" textLength="14.0" lengthAdjust="spacing" transform="translate(80.6 256.0) scale(1.07 1)" stroke="#fff" stroke-width="0.4">6</text>
<text x="0" y="0" font-size="28" text-anchor="start" fill="#000" textLength="14.0" lengthAdjust="spacing" transform="translate(80.6 138.1) scale(1.07 1)" stroke="#fff" stroke-width="0.4">8</text>
<text x="0" y="0" font-size="28" text-anchor="start" fill="#000" textLength="51.0" lengthAdjust="spacing" transform="translate(830.3 610.4) scale(1.07 1)" stroke="#fff" stroke-width="0.4">0.45</text>
<text x="0" y="0" font-size="28" text-anchor="start" fill="#000" textLength="51.0" lengthAdjust="spacing" transform="translate(830.3 515.5) scale(1.07 1)" stroke="#fff" stroke-width="0.4">0.50</text>
<text x="0" y="0" font-size="28" text-anchor="start" fill="#000" textLength="51.0" lengthAdjust="spacing" transform="translate(830.3 421.6) scale(1.07 1)" stroke="#fff" stroke-width="0.4">0.55</text>
<text x="0" y="0" font-size="28" text-anchor="start" fill="#000" textLength="51.0" lengthAdjust="spacing" transform="translate(830.3 327.2) scale(1.07 1)" stroke="#fff" stroke-width="0.4">0.60</text>
<text x="0" y="0" font-size="28" text-anchor="start" fill="#000" textLength="51.0" lengthAdjust="spacing" transform="translate(830.3 232.9) scale(1.07 1)" stroke="#fff" stroke-width="0.4">0.65</text>
<text x="0" y="0" font-size="28" text-anchor="start" fill="#000" textLength="51.0" lengthAdjust="spacing" transform="translate(830.3 138.4) scale(1.07 1)" stroke="#fff" stroke-width="0.4">0.70</text>
<text x="0" y="0" font-size="28" text-anchor="start" fill="#000" textLength="14.2" lengthAdjust="spacing" transform="translate(116.7 649.3) scale(1.07 1)" stroke="#fff" stroke-width="0.4">0</text>
<text x="0" y="0" font-size="28" text-anchor="start" fill="#000" textLength="14.2" lengthAdjust="spacing" transform="translate(221.0 649.3) scale(1.07 1)" stroke="#fff" stroke-width="0.4">2</text>
<text x="0" y="0" font-size="28" text-anchor="start" fill="#000" textLength="14.2" lengthAdjust="spacing" transform="translate(325.3 649.3) scale(1.07 1)" stroke="#fff" stroke-width="0.4">4</text>
<text x="0" y="0" font-size="28" text-anchor="start" fill="#000" textLength="14.2" lengthAdjust="spacing" transform="translate(429.6 649.3) scale(1.07 1)" stroke="#fff" stroke-width="0.4">6</text>
<text x="0" y="0" font-size="28" text-anchor="start" fill="#000" textLength="14.2" lengthAdjust="spacing" transform="translate(533.9 649.3) scale(1.07 1)" stroke="#fff" stroke-width="0.4">8</text>
<text x="0" y="0" font-size="28" text-anchor="start" fill="#000" textLength="28.4" lengthAdjust="spacing" transform="translate(630.6 649.3) scale(1.07 1)" stroke="#fff" stroke-width="0.4">10</text>
<text x="0" y="0" font-size="28" text-anchor="start" fill="#000" textLength="28.4" lengthAdjust="spacing" transform="translate(734.9 649.3) scale(1.07 1)" stroke="#fff" stroke-width="0.4">12</text>
<text x="314.0" y="688.4" font-size="38" text-anchor="start" fill="#000" textLength="234.0" lengthAdjust="spacing">Month of year</text>
<text x="50.5" y="606.0" font-size="31" text-anchor="start" fill="#000" textLength="505.5" lengthAdjust="spacing" transform="rotate(-90 50.5 606.0)">Global solar radiation <tspan dx="4">(kWh/m</tspan><tspan font-size="66%" dy="-10">2</tspan><tspan dy="10">/day)</tspan></text>
<text x="928.8" y="455.0" font-size="31" text-anchor="start" fill="#000" textLength="214.0" lengthAdjust="spacing" transform="rotate(-90 928.8 455.0)">Clearness index</text>
<g stroke="#111" stroke-width="1.4" fill="#ff00ff">
<rect x="1095.20" y="183.80" width="30.6" height="411.90"/>
<rect x="1146.00" y="250.96" width="30.6" height="344.74"/>
<rect x="1196.80" y="303.27" width="30.6" height="292.43"/>
<rect x="1247.60" y="363.89" width="30.6" height="231.81"/>
<rect x="1298.40" y="396.58" width="30.6" height="199.12"/>
<rect x="1349.20" y="415.01" width="30.6" height="180.69"/>
<rect x="1400.00" y="404.31" width="30.6" height="191.39"/>
<rect x="1450.80" y="368.65" width="30.6" height="227.05"/>
<rect x="1501.60" y="292.57" width="30.6" height="303.13"/>
<rect x="1552.40" y="247.40" width="30.6" height="348.30"/>
<rect x="1603.20" y="204.01" width="30.6" height="391.69"/>
<rect x="1654.00" y="202.22" width="30.6" height="393.48"/>
</g>
<g fill="none" stroke="#3a3a3a" stroke-width="1.9">
<path d="M1055.1 120.2 V595.7"/>
<path d="M1047.6 120.2 H1730.6"/>
<path d="M1047.6 595.7 H1730.6"/>
<path d="M1723.6 120.2 V595.7"/>
<path d="M1047.6 476.83 H1055.1"/>
<path d="M1047.6 357.95 H1055.1"/>
<path d="M1047.6 239.07 H1055.1"/>
<path d="M1723.6 500.60 H1730.6"/>
<path d="M1723.6 405.50 H1730.6"/>
<path d="M1723.6 310.40 H1730.6"/>
<path d="M1723.6 215.30 H1730.6"/>
<path d="M1059.30 595.7 V602.7"/>
<path d="M1160.90 595.7 V602.7"/>
<path d="M1262.50 595.7 V602.7"/>
<path d="M1364.10 595.7 V602.7"/>
<path d="M1465.70 595.7 V602.7"/>
<path d="M1567.30 595.7 V602.7"/>
<path d="M1668.90 595.7 V602.7"/>
</g>
<path d="M1110.1 386.5 L1111.4 389.2 L1112.6 391.9 L1113.9 394.6 L1115.2 397.2 L1116.4 399.9 L1117.7 402.5 L1119.0 405.1 L1120.3 407.7 L1121.5 410.2 L1122.8 412.7 L1124.1 415.1 L1125.3 417.5 L1126.6 419.9 L1127.9 422.1 L1129.1 424.3 L1130.4 426.4 L1131.7 428.5 L1133.0 430.5 L1134.2 432.3 L1135.5 434.1 L1136.8 435.8 L1138.0 437.4 L1139.3 438.9 L1140.6 440.3 L1141.8 441.6 L1143.1 442.7 L1144.4 443.7 L1145.7 444.6 L1146.9 445.4 L1148.2 446.0 L1149.5 446.5 L1150.7 446.8 L1152.0 447.0 L1153.3 447.0 L1154.5 446.9 L1155.8 446.6 L1157.1 446.1 L1158.4 445.4 L1159.6 444.6 L1160.9 443.5 L1162.2 442.3 L1163.4 440.9 L1164.7 439.3 L1166.0 437.6 L1167.2 435.7 L1168.5 433.7 L1169.8 431.5 L1171.1 429.2 L1172.3 426.8 L1173.6 424.3 L1174.9 421.7 L1176.1 419.1 L1177.4 416.3 L1178.7 413.5 L1179.9 410.6 L1181.2 407.6 L1182.5 404.7 L1183.8 401.7 L1185.0 398.7 L1186.3 395.7 L1187.6 392.6 L1188.8 389.6 L1190.1 386.6 L1191.4 383.7 L1192.6 380.8 L1193.9 377.9 L1195.2 375.1 L1196.5 372.4 L1197.7 369.7 L1199.0 367.1 L1200.3 364.7 L1201.5 362.3 L1202.8 360.1 L1204.1 357.9 L1205.3 356.0 L1206.6 354.1 L1207.9 352.4 L1209.2 350.9 L1210.4 349.6 L1211.7 348.4 L1213.0 347.5 L1214.2 346.7 L1215.5 346.1 L1216.8 345.7 L1218.0 345.4 L1219.3 345.3 L1220.6 345.4 L1221.9 345.6 L1223.1 345.9 L1224.4 346.4 L1225.7 347.0 L1226.9 347.7 L1228.2 348.6 L1229.5 349.5 L1230.8 350.5 L1232.0 351.6 L1233.3 352.8 L1234.6 354.1 L1235.8 355.4 L1237.1 356.8 L1238.4 358.2 L1239.6 359.7 L1240.9 361.3 L1242.2 362.8 L1243.4 364.4 L1244.7 366.0 L1246.0 367.7 L1247.3 369.3 L1248.5 370.9 L1249.8 372.5 L1251.1 374.1 L1252.3 375.7 L1253.6 377.2 L1254.9 378.7 L1256.2 380.2 L1257.4 381.6 L1258.7 382.9 L1260.0 384.2 L1261.2 385.4 L1262.5 386.5 L1263.8 387.5 L1265.0 388.5 L1266.3 389.3 L1267.6 390.1 L1268.8 390.8 L1270.1 391.4 L1271.4 391.9 L1272.7 392.3 L1273.9 392.7 L1275.2 393.0 L1276.5 393.2 L1277.7 393.3 L1279.0 393.3 L1280.3 393.3 L1281.5 393.1 L1282.8 393.0 L1284.1 392.7 L1285.4 392.3 L1286.6 391.9 L1287.9 391.4 L1289.2 390.9 L1290.4 390.2 L1291.7 389.5 L1293.0 388.7 L1294.2 387.9 L1295.5 387.0 L1296.8 386.0 L1298.1 385.0 L1299.3 383.8 L1300.6 382.7 L1301.9 381.4 L1303.1 380.1 L1304.4 378.7 L1305.7 377.3 L1307.0 375.8 L1308.2 374.3 L1309.5 372.7 L1310.8 371.0 L1312.0 369.2 L1313.3 367.5 L1314.6 365.6 L1315.8 363.7 L1317.1 361.8 L1318.4 359.8 L1319.6 357.7 L1320.9 355.6 L1322.2 353.5 L1323.5 351.3 L1324.7 349.1 L1326.0 346.8 L1327.3 344.5 L1328.5 342.2 L1329.8 339.9 L1331.1 337.5 L1332.3 335.1 L1333.6 332.6 L1334.9 330.2 L1336.2 327.7 L1337.4 325.2 L1338.7 322.7 L1340.0 320.1 L1341.2 317.6 L1342.5 315.1 L1343.8 312.5 L1345.0 309.9 L1346.3 307.4 L1347.6 304.8 L1348.9 302.3 L1350.1 299.7 L1351.4 297.1 L1352.7 294.6 L1353.9 292.1 L1355.2 289.5 L1356.5 287.0 L1357.8 284.5 L1359.0 282.0 L1360.3 279.6 L1361.6 277.2 L1362.8 274.7 L1364.1 272.4 L1365.4 270.0 L1366.6 267.7 L1367.9 265.4 L1369.2 263.1 L1370.4 260.9 L1371.7 258.8 L1373.0 256.7 L1374.3 254.6 L1375.5 252.6 L1376.8 250.6 L1378.1 248.7 L1379.3 246.9 L1380.6 245.2 L1381.9 243.5 L1383.1 241.8 L1384.4 240.3 L1385.7 238.8 L1387.0 237.5 L1388.2 236.2 L1389.5 235.0 L1390.8 233.8 L1392.0 232.8 L1393.3 231.9 L1394.6 231.1 L1395.8 230.4 L1397.1 229.8 L1398.4 229.3 L1399.7 228.9 L1400.9 228.6 L1402.2 228.5 L1403.5 228.4 L1404.7 228.5 L1406.0 228.8 L1407.3 229.2 L1408.5 229.7 L1409.8 230.3 L1411.1 231.1 L1412.4 232.0 L1413.6 233.1 L1414.9 234.3 L1416.2 235.7 L1417.4 237.2 L1418.7 238.9 L1420.0 240.7 L1421.2 242.6 L1422.5 244.7 L1423.8 246.8 L1425.1 249.1 L1426.3 251.4 L1427.6 253.9 L1428.9 256.4 L1430.1 259.0 L1431.4 261.6 L1432.7 264.3 L1433.9 267.1 L1435.2 269.9 L1436.5 272.7 L1437.8 275.6 L1439.0 278.4 L1440.3 281.3 L1441.6 284.2 L1442.8 287.1 L1444.1 289.9 L1445.4 292.8 L1446.6 295.6 L1447.9 298.4 L1449.2 301.1 L1450.5 303.8 L1451.7 306.5 L1453.0 309.0 L1454.3 311.5 L1455.5 313.9 L1456.8 316.3 L1458.1 318.5 L1459.3 320.6 L1460.6 322.6 L1461.9 324.5 L1463.2 326.3 L1464.4 327.9 L1465.7 329.4 L1467.0 330.8 L1468.2 332.0 L1469.5 333.0 L1470.8 334.0 L1472.0 334.8 L1473.3 335.5 L1474.6 336.1 L1475.9 336.6 L1477.1 337.1 L1478.4 337.4 L1479.7 337.7 L1480.9 337.9 L1482.2 338.1 L1483.5 338.2 L1484.8 338.2 L1486.0 338.2 L1487.3 338.2 L1488.6 338.2 L1489.8 338.2 L1491.1 338.1 L1492.4 338.1 L1493.6 338.1 L1494.9 338.1 L1496.2 338.1 L1497.4 338.2 L1498.7 338.3 L1500.0 338.4 L1501.3 338.6 L1502.5 338.9 L1503.8 339.3 L1505.1 339.7 L1506.3 340.2 L1507.6 340.8 L1508.9 341.5 L1510.2 342.4 L1511.4 343.3 L1512.7 344.4 L1514.0 345.6 L1515.2 346.9 L1516.5 348.4 L1517.8 350.1 L1519.0 351.9 L1520.3 353.8 L1521.6 355.9 L1522.8 358.1 L1524.1 360.4 L1525.4 362.8 L1526.7 365.3 L1527.9 367.9 L1529.2 370.6 L1530.5 373.3 L1531.7 376.1 L1533.0 379.0 L1534.3 381.9 L1535.5 384.8 L1536.8 387.8 L1538.1 390.7 L1539.4 393.7 L1540.6 396.7 L1541.9 399.7 L1543.2 402.6 L1544.4 405.6 L1545.7 408.4 L1547.0 411.3 L1548.2 414.1 L1549.5 416.8 L1550.8 419.5 L1552.1 422.0 L1553.3 424.5 L1554.6 426.9 L1555.9 429.2 L1557.1 431.4 L1558.4 433.4 L1559.7 435.3 L1561.0 437.1 L1562.2 438.7 L1563.5 440.2 L1564.8 441.5 L1566.0 442.6 L1567.3 443.5 L1568.6 444.3 L1569.8 444.8 L1571.1 445.2 L1572.4 445.4 L1573.6 445.5 L1574.9 445.4 L1576.2 445.1 L1577.5 444.7 L1578.7 444.2 L1580.0 443.5 L1581.3 442.8 L1582.5 441.9 L1583.8 440.9 L1585.1 439.8 L1586.3 438.7 L1587.6 437.5 L1588.9 436.2 L1590.2 434.8 L1591.4 433.4 L1592.7 431.9 L1594.0 430.5 L1595.2 428.9 L1596.5 427.4 L1597.8 425.8 L1599.0 424.3 L1600.3 422.7 L1601.6 421.2 L1602.9 419.6 L1604.1 418.1 L1605.4 416.7 L1606.7 415.2 L1607.9 413.8 L1609.2 412.5 L1610.5 411.3 L1611.8 410.1 L1613.0 409.0 L1614.3 407.9 L1615.6 407.0 L1616.8 406.2 L1618.1 405.5 L1619.4 404.9 L1620.7 404.4 L1622.0 404.1 L1623.3 403.8 L1624.6 403.7 L1625.9 403.7 L1627.2 403.8 L1628.5 404.0 L1629.8 404.2 L1631.1 404.6 L1632.4 405.1 L1633.7 405.7 L1635.0 406.3 L1636.3 407.1 L1637.6 407.9 L1638.9 408.8 L1640.2 409.8 L1641.5 410.8 L1642.8 412.0 L1644.2 413.1 L1645.5 414.4 L1646.8 415.7 L1648.1 417.0 L1649.4 418.4 L1650.7 419.9 L1652.0 421.4 L1653.3 422.9 L1654.6 424.5 L1655.9 426.1 L1657.2 427.8 L1658.5 429.5 L1659.8 431.2 L1661.1 432.9 L1662.4 434.6 L1663.7 436.4 L1665.0 438.2 L1666.3 440.0 L1667.6 441.7 L1668.9 443.5" fill="none" stroke="#10ff10" stroke-width="1.2"/>
<g fill="#000">
<ellipse cx="1110.1" cy="386.5" rx="5.7" ry="5.6"/>
<ellipse cx="1160.9" cy="443.5" rx="5.7" ry="5.6"/>
<ellipse cx="1211.7" cy="348.4" rx="5.7" ry="5.6"/>
<ellipse cx="1262.5" cy="386.5" rx="5.7" ry="5.6"/>
<ellipse cx="1313.3" cy="367.5" rx="5.7" ry="5.6"/>
<ellipse cx="1364.1" cy="272.4" rx="5.7" ry="5.6"/>
<ellipse cx="1414.9" cy="234.3" rx="5.7" ry="5.6"/>
<ellipse cx="1465.7" cy="329.4" rx="5.7" ry="5.6"/>
<ellipse cx="1516.5" cy="348.4" rx="5.7" ry="5.6"/>
<ellipse cx="1567.3" cy="443.5" rx="5.7" ry="5.6"/>
<ellipse cx="1618.1" cy="405.5" rx="5.7" ry="5.6"/>
<ellipse cx="1668.9" cy="443.5" rx="5.7" ry="5.6"/>
</g>
<rect x="1145" y="73.5" width="59.5" height="14.5" fill="#ff00ff" stroke="#111" stroke-width="1.4"/>
<text x="1219.5" y="88.0" font-size="24.8" text-anchor="start" fill="#000" textLength="184.5" lengthAdjust="spacing">Global radiation</text>
<path d="M1418.8 80 H1478" stroke="#10ff10" stroke-width="1.2" fill="none"/>
<ellipse cx="1448.7" cy="80" rx="5.7" ry="5.6" fill="#000"/>
<text x="1494.5" y="88.3" font-size="24.8" text-anchor="start" fill="#000" textLength="175.5" lengthAdjust="spacing">Clearness index</text>
<text x="1525.5" y="167.5" font-size="38" text-anchor="start" fill="#5b9bd5" textLength="189.5" lengthAdjust="spacing">(b) Average</text>
<text x="1020.3" y="604.3" font-size="26" text-anchor="start" fill="#000" stroke="#fff" stroke-width="0.4">0</text>
<text x="1020.3" y="485.4" font-size="26" text-anchor="start" fill="#000" stroke="#fff" stroke-width="0.4">2</text>
<text x="1020.3" y="366.6" font-size="26" text-anchor="start" fill="#000" stroke="#fff" stroke-width="0.4">4</text>
<text x="1020.3" y="247.7" font-size="26" text-anchor="start" fill="#000" stroke="#fff" stroke-width="0.4">6</text>
<text x="1020.3" y="128.8" font-size="26" text-anchor="start" fill="#000" stroke="#fff" stroke-width="0.4">8</text>
<text x="1743.2" y="604.3" font-size="26" text-anchor="start" fill="#000" textLength="47.0" lengthAdjust="spacing" stroke="#fff" stroke-width="0.4">0.45</text>
<text x="1743.2" y="509.2" font-size="26" text-anchor="start" fill="#000" textLength="47.0" lengthAdjust="spacing" stroke="#fff" stroke-width="0.4">0.50</text>
<text x="1743.2" y="414.1" font-size="26" text-anchor="start" fill="#000" textLength="47.0" lengthAdjust="spacing" stroke="#fff" stroke-width="0.4">0.55</text>
<text x="1743.2" y="319.0" font-size="26" text-anchor="start" fill="#000" textLength="47.0" lengthAdjust="spacing" stroke="#fff" stroke-width="0.4">0.60</text>
<text x="1743.2" y="223.9" font-size="26" text-anchor="start" fill="#000" textLength="47.0" lengthAdjust="spacing" stroke="#fff" stroke-width="0.4">0.65</text>
<text x="1743.2" y="128.8" font-size="26" text-anchor="start" fill="#000" textLength="47.0" lengthAdjust="spacing" stroke="#fff" stroke-width="0.4">0.70</text>
<text x="1052.5" y="638.5" font-size="25.5" text-anchor="start" fill="#000" textLength="13.5" lengthAdjust="spacing" stroke="#fff" stroke-width="0.4">0</text>
<text x="1154.1" y="638.5" font-size="25.5" text-anchor="start" fill="#000" textLength="13.5" lengthAdjust="spacing" stroke="#fff" stroke-width="0.4">2</text>
<text x="1255.8" y="638.5" font-size="25.5" text-anchor="start" fill="#000" textLength="13.5" lengthAdjust="spacing" stroke="#fff" stroke-width="0.4">4</text>
<text x="1357.3" y="638.5" font-size="25.5" text-anchor="start" fill="#000" textLength="13.5" lengthAdjust="spacing" stroke="#fff" stroke-width="0.4">6</text>
<text x="1458.9" y="638.5" font-size="25.5" text-anchor="start" fill="#000" textLength="13.5" lengthAdjust="spacing" stroke="#fff" stroke-width="0.4">8</text>
<text x="1553.8" y="638.5" font-size="25.5" text-anchor="start" fill="#000" textLength="27.0" lengthAdjust="spacing" stroke="#fff" stroke-width="0.4">10</text>
<text x="1655.4" y="638.5" font-size="25.5" text-anchor="start" fill="#000" textLength="27.0" lengthAdjust="spacing" stroke="#fff" stroke-width="0.4">12</text>
<text x="1244.6" y="692.6" font-size="38" text-anchor="start" fill="#000" textLength="233.5" lengthAdjust="spacing">Month of year</text>
<text x="987.9" y="602.3" font-size="31" text-anchor="start" fill="#000" textLength="503.5" lengthAdjust="spacing" transform="rotate(-90 987.9 602.3)">Global solar radiation <tspan dx="4">(kWh/m</tspan><tspan font-size="66%" dy="-10">2</tspan><tspan dy="10">/day)</tspan></text>
<text x="1852.4" y="470.0" font-size="31" text-anchor="start" fill="#000" textLength="216.5" lengthAdjust="spacing" transform="rotate(-90 1852.4 470.0)">Clearness index</text>
</g>
</svg>
</body>
</html>
